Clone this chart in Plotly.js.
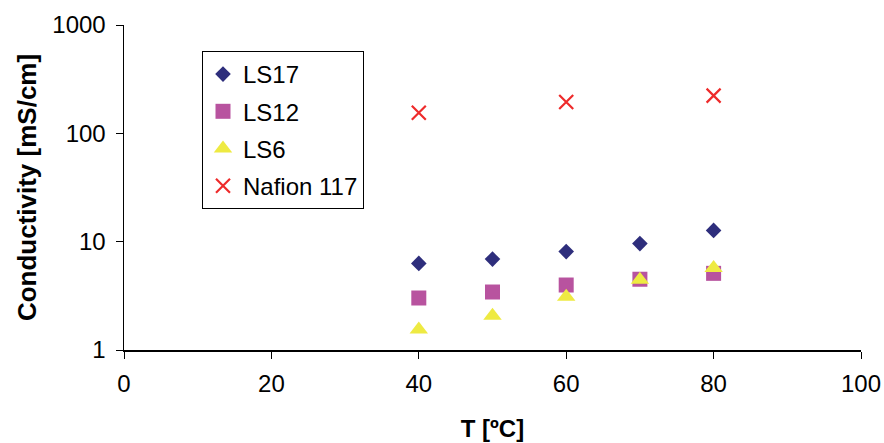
<!DOCTYPE html>
<html>
<head>
<meta charset="utf-8">
<script src="https://cdn.plot.ly/plotly-3.0.1.min.js"></script>
<style>html,body{margin:0;padding:0;background:#fff;}#chart{width:884px;height:443px;}</style>
</head>
<body>
<div id="chart"></div>
<script>
const temps = [40, 50, 60, 70, 80];
const ls17 = [6.3, 6.9, 8.1, 9.6, 12.7];
const ls12 = [3.02, 3.43, 3.98, 4.5, 5.1];
const ls6 = [1.55, 2.07, 3.1, 4.45, 5.7];
const nafionT = [40, 60, 80];
const nafion = [155, 195, 223];
const seriesNames = ['LS17', 'LS12', 'LS6', 'Nafion 117'];
const xTicks = [0, 20, 40, 60, 80, 100];
const yTicks = [1, 10, 100, 1000];

const font = 'Liberation Sans, Arial, sans-serif';
const traces = [
  {x: temps, y: ls17, name: seriesNames[0], legendgroup: 'a', mode: 'markers', type: 'scatter',
   marker: {symbol: 'diamond', size: 12, color: '#2e2e7c'}},
  {x: temps, y: ls12, name: seriesNames[1], legendgroup: 'b', mode: 'markers', type: 'scatter',
   marker: {symbol: 'square', size: 15, color: '#b8539f'}},
  {x: temps, y: ls6, name: seriesNames[2], legendgroup: 'c', mode: 'markers', type: 'scatter',
   marker: {symbol: 'triangle-up', size: 16, color: '#eeea42'}},
  {x: nafionT, y: nafion, name: seriesNames[3], legendgroup: 'd', mode: 'markers', type: 'scatter',
   marker: {symbol: 'x-thin-open', size: 14, color: '#ee2b2b', line: {width: 2.2, color: '#ee2b2b'}}}
];

const layout = {
  width: 884, height: 443,
  margin: {l: 124, r: 23, t: 25, b: 93},
  paper_bgcolor: '#fff', plot_bgcolor: '#fff',
  font: {family: font, size: 24, color: '#000'},
  showlegend: true,
  legend: {x: (202 - 124) / 737, y: (350 - 51) / 325, xref: 'paper', yref: 'paper', xanchor: 'left', yanchor: 'top',
           bordercolor: '#000', borderwidth: 1, bgcolor: 'rgba(255,255,255,0)', font: {family: font, size: 24, color: '#000'},
           tracegroupgap: 3, itemwidth: 30},
  xaxis: {range: [0, 100], tickvals: xTicks, ticktext: xTicks.map(String), showgrid: false, zeroline: false,
          showline: true, linecolor: '#000', linewidth: 1.5, ticks: 'outside', ticklen: 7, tickcolor: '#000',
          ticklabelstandoff: 5,
          tickfont: {family: font, size: 24}, title: {text: '<b>T [ºC]</b>', font: {family: font, size: 24}, standoff: 24}},
  yaxis: {type: 'log', range: [0, 3], tickvals: yTicks, ticktext: yTicks.map(String), showgrid: false, zeroline: false,
          showline: true, linecolor: '#000', linewidth: 1.5, ticks: 'outside', ticklen: 7, tickcolor: '#000',
          ticklabelstandoff: 5,
          tickfont: {family: font, size: 24}, title: {text: '<b>Conductivity [mS/cm]</b>', font: {family: font, size: 26}, standoff: 8}}
};
Plotly.newPlot('chart', traces, layout, {displayModeBar: false, staticPlot: true});
</script>
</body>
</html>
